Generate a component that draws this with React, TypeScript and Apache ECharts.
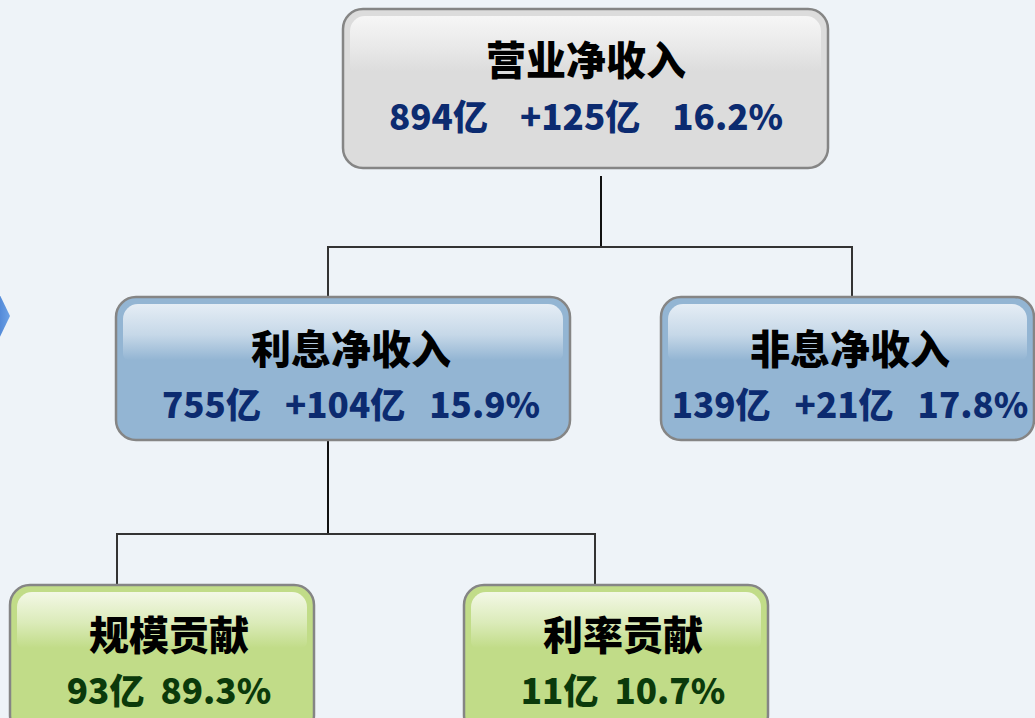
import React, { useEffect, useRef } from "react";
import * as echarts from "echarts";

// ---- data ----
const names = ["营业净收入", "利息净收入", "非息净收入", "规模贡献", "利率贡献"];
const amounts = [894, 755, 139, 93, 11]; // 亿
const changes: (number | null)[] = [125, 104, 21, null, null]; // 亿
const shares = [16.2, 15.9, 17.8, 89.3, 10.7]; // %
const parents = [-1, 0, 0, 1, 1];
const gaps = [4, 3, 3, 2, 2]; // spaces between numbers

// ---- layout (positions / styles) ----
const layout = [
  { x: 343, y: 9, w: 485, h: 159, theme: "gray", tx: 586, t1: 58, t2: 114, ax: 601, topGap: 8, busY: 247 },
  { x: 116, y: 297, w: 454, h: 143, theme: "blue", tx: 351, t1: 347, t2: 402, ax: 328, topGap: 0, busY: 534 },
  { x: 661, y: 297, w: 373, h: 143, theme: "blue", tx: 850, t1: 347, t2: 402, ax: 852, topGap: 0, busY: 0 },
  { x: 10, y: 585, w: 304, h: 150, theme: "green", tx: 169, t1: 633, t2: 688, ax: 117, topGap: 0, busY: 0 },
  { x: 464, y: 585, w: 304, h: 150, theme: "green", tx: 623, t1: 633, t2: 688, ax: 595, topGap: 0, busY: 0 },
];

const themes: Record<string, { base: string; hiTop: string; hiMid: string; num: string }> = {
  gray: { base: "#dcdcdc", hiTop: "#f6f6f6", hiMid: "#e9e9e9", num: "#0c2b70" },
  blue: { base: "#93b5d3", hiTop: "#e5edf5", hiMid: "#c6d8e8", num: "#0c2b70" },
  green: { base: "#c1dc88", hiTop: "#f3f8e6", hiMid: "#dbebb9", num: "#0b3a0b" },
};

const FONT = '"Noto Sans CJK SC", "Noto Sans", sans-serif';

function numberLine(i: number): string {
  const sp = " ".repeat(gaps[i]);
  const parts = [`${amounts[i]}亿`];
  if (changes[i] !== null) parts.push(`+${changes[i]}亿`);
  parts.push(`${shares[i].toFixed(1)}%`);
  return parts.join(sp);
}

export default function App() {
  const ref = useRef<HTMLDivElement>(null);
  useEffect(() => {
    if (!ref.current) return;
    const chart = echarts.init(ref.current, undefined, { renderer: "svg" });
    const els: any[] = [];

    // arrow at left edge
    els.push({
      type: "polygon",
      shape: { points: [[-2, 291], [10, 316], [-2, 341]] },
      style: {
        fill: new echarts.graphic.LinearGradient(0, 0, 1, 0, [
          { offset: 0, color: "#4f86d6" },
          { offset: 1, color: "#6da2e6" },
        ]),
      },
    });

    // connectors
    names.forEach((_, p) => {
      const kids = parents.map((q, i) => (q === p ? i : -1)).filter((i) => i >= 0);
      if (!kids.length) return;
      const L = layout[p];
      const bus = L.busY;
      els.push({
        type: "line",
        shape: { x1: L.ax, y1: L.y + L.h + L.topGap, x2: L.ax, y2: bus },
        style: { stroke: "#111", lineWidth: 2 },
      });
      const xs = kids.map((k) => layout[k].ax);
      els.push({
        type: "line",
        shape: { x1: Math.min(...xs) - 1, y1: bus, x2: Math.max(...xs) + 1, y2: bus },
        style: { stroke: "#333", lineWidth: 2 },
      });
      kids.forEach((k) => {
        els.push({
          type: "line",
          shape: { x1: layout[k].ax, y1: bus, x2: layout[k].ax, y2: layout[k].y },
          style: { stroke: "#333", lineWidth: 2 },
        });
      });
    });

    // boxes
    names.forEach((name, i) => {
      const L = layout[i];
      const T = themes[L.theme];
      els.push({
        type: "rect",
        shape: { x: L.x, y: L.y, width: L.w, height: L.h, r: 20 },
        style: { fill: T.base, stroke: "#858585", lineWidth: 2.5 },
      });
      els.push({
        type: "rect",
        shape: { x: L.x + 7, y: L.y + 7, width: L.w - 14, height: 56, r: [15, 15, 6, 6] },
        style: {
          fill: new echarts.graphic.LinearGradient(0, 0, 0, 1, [
            { offset: 0, color: T.hiTop },
            { offset: 0.55, color: T.hiMid },
            { offset: 1, color: T.base },
          ]),
        },
      });
      els.push({
        type: "text",
        style: {
          text: name,
          x: L.tx,
          y: L.t1,
          fill: "#000",
          fontSize: 40,
          fontWeight: 900,
          fontFamily: FONT,
          textAlign: "center",
          textVerticalAlign: "middle",
          align: "center",
          verticalAlign: "middle",
        },
      });
      els.push({
        type: "text",
        style: {
          text: numberLine(i),
          x: L.tx,
          y: L.t2,
          fill: T.num,
          fontSize: 35,
          fontWeight: 900,
          fontFamily: FONT,
          textAlign: "center",
          textVerticalAlign: "middle",
          align: "center",
          verticalAlign: "middle",
        },
      });
    });

    chart.setOption({
      animation: false,
      backgroundColor: "#eef3f8",
      graphic: { elements: els },
    });
    return () => chart.dispose();
  }, []);

  return (
    <div
      ref={ref}
      style={{ position: "fixed", left: 0, top: 0, width: 1035, height: 718 }}
    />
  );
}
